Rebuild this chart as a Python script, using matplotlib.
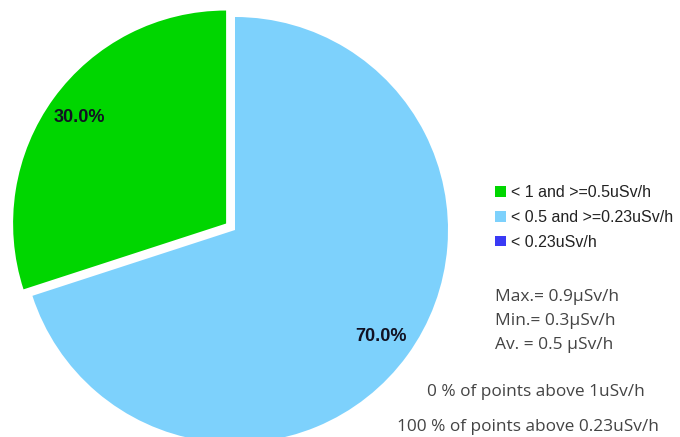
import matplotlib
matplotlib.use("Agg")
import matplotlib.pyplot as plt
from matplotlib.patches import Patch

# data
labels = ["< 1 and >=0.5uSv/h", "< 0.5 and >=0.23uSv/h", "< 0.23uSv/h"]
shares = [30.0, 70.0, 0.0]
colors = ["#00d600", "#7dd1fc", "#3a3af5"]
stats_lines = ["Max.= 0.9\u00b5Sv/h", "Min.= 0.3\u00b5Sv/h", "Av. = 0.5 \u00b5Sv/h"]
above_lines = ["0 % of points above 1uSv/h", "100 % of points above 0.23uSv/h"]

W, H = 680, 437
fig = plt.figure(figsize=(6.8, 4.37), dpi=100)
ax = fig.add_axes([0, 0, 1, 1])

def pct(v):
    return "%.1f%%" % v if v > 0 else ""

wedges, texts, autotexts = ax.pie(
    shares, colors=colors, startangle=90, counterclock=True,
    center=(235, H - 230), radius=213, explode=[11, 0, 0],
    autopct=pct, pctdistance=0.85,
    textprops=dict(family="Liberation Sans", fontweight="bold",
                   fontsize=13, color="#111122"),
    wedgeprops=dict(linewidth=0))
ax.set_xlim(0, W)
ax.set_ylim(0, H)
ax.set_aspect("equal")
ax.axis("off")

handles = [Patch(facecolor=c, edgecolor="none") for c in colors]
ax.legend(handles, labels, loc="center left", bbox_to_anchor=(495, H - 217.5),
          bbox_transform=ax.transData, frameon=False, borderpad=0,
          borderaxespad=0, handlelength=0.66, handleheight=0.66,
          handletextpad=0.33, labelspacing=0.6,
          prop=dict(family="Liberation Sans", size=11.5))
for t in ax.get_legend().get_texts():
    t.set_color("#222222")

for i, s in enumerate(stats_lines):
    ax.text(495, H - 297 - 24 * i, s, family="Open Sans", fontsize=12.5,
            color="#444444", va="center", ha="left")
ax.text(427, H - 392, above_lines[0], family="Open Sans", fontsize=12.4,
        color="#444444", va="center", ha="left")
ax.text(397, H - 427, above_lines[1], family="Open Sans", fontsize=12.4,
        color="#444444", va="center", ha="left")

fig.savefig("out.png", dpi=100)
